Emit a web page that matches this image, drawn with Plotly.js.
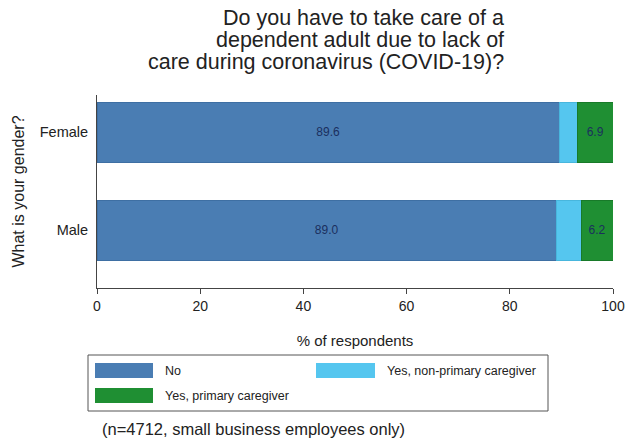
<!DOCTYPE html>
<html>
<head>
<meta charset="utf-8">
<script src="https://cdn.plot.ly/plotly-3.0.1.min.js"></script>
<style>html,body{margin:0;padding:0;background:#fff;}#chart{width:637px;height:440px;}</style>
</head>
<body>
<div id="chart"></div>
<script>
// Data
var categories = ["Male", "Female"];
var seriesNames = ["No", "Yes, non-primary caregiver", "Yes, primary caregiver"];
var noValues = [89.0, 89.6];
var nonPrimaryValues = [4.8, 3.5];
var primaryValues = [6.2, 6.9];
var xTickVals = [0, 20, 40, 60, 80, 100];
var titleLines = ["Do you have to take care of a", "dependent adult due to lack of", "care during coronavirus (COVID-19)?"];

var colors = ["#4a7db3", "#55c6ef", "#1f8f33"];
var lineColors = ["#3e6fa3", "#48b6dd", "#187a29"];

// plot area in pixels
var L = 97, R = 613, T = 95, B = 288;
function px(X){ return (X - L) / (R - L); }
function py(Y){ return (B - Y) / (B - T); }

function fmt(v){ return v.toFixed(1); }

var font = "Liberation Sans, Arial, sans-serif";
var labelFont = {family: font, size: 12, color: "#1b2f5e"};

var traces = [
  {type: "bar", orientation: "h", name: seriesNames[0], y: categories, x: noValues,
   marker: {color: colors[0], line: {color: lineColors[0], width: 1}},
   text: noValues.map(fmt), textposition: "inside", insidetextanchor: "middle",
   textfont: labelFont, insidetextfont: labelFont, constraintext: "none", hoverinfo: "x+y"},
  {type: "bar", orientation: "h", name: seriesNames[1], y: categories, x: nonPrimaryValues,
   marker: {color: colors[1], line: {color: lineColors[1], width: 1}},
   textposition: "none", hoverinfo: "x+y"},
  {type: "bar", orientation: "h", name: seriesNames[2], y: categories, x: primaryValues,
   marker: {color: colors[2], line: {color: lineColors[2], width: 1}},
   text: primaryValues.map(fmt), textposition: "inside", insidetextanchor: "middle",
   textfont: labelFont, insidetextfont: labelFont, constraintext: "none", hoverinfo: "x+y"}
];

var shapes = [
  // legend frame
  {type: "rect", xref: "paper", yref: "paper", x0: px(88), x1: px(548), y0: py(355), y1: py(411),
   line: {color: "#555", width: 1}, fillcolor: "rgba(0,0,0,0)"},
  {type: "rect", xref: "paper", yref: "paper", x0: px(95), x1: px(153), y0: py(363), y1: py(378),
   line: {width: 0}, fillcolor: colors[0]},
  {type: "rect", xref: "paper", yref: "paper", x0: px(316), x1: px(375), y0: py(363), y1: py(378),
   line: {width: 0}, fillcolor: colors[1]},
  {type: "rect", xref: "paper", yref: "paper", x0: px(95), x1: px(153), y0: py(388), y1: py(403),
   line: {width: 0}, fillcolor: colors[2]}
];

var legFont = {family: font, size: 12.5, color: "#222"};
var titleY = [18, 40, 62];
var annotations = titleLines.map(function(t, i){
  return {xref: "paper", yref: "paper", x: px(506), y: py(titleY[i]), xanchor: "right", yanchor: "middle",
          showarrow: false, text: t, font: {family: font, size: 21.5, color: "#222"}};
}).concat([
  {xref: "paper", yref: "paper", x: px(163), y: py(371), xanchor: "left", yanchor: "middle", showarrow: false,
   text: seriesNames[0], font: legFont},
  {xref: "paper", yref: "paper", x: px(385), y: py(371), xanchor: "left", yanchor: "middle", showarrow: false,
   text: seriesNames[1], font: legFont},
  {xref: "paper", yref: "paper", x: px(163), y: py(396), xanchor: "left", yanchor: "middle", showarrow: false,
   text: seriesNames[2], font: legFont},
  {xref: "paper", yref: "paper", x: px(100), y: py(429), xanchor: "left", yanchor: "middle", showarrow: false,
   text: "(n=4712, small business employees only)", font: {family: font, size: 16.5, color: "#222"}}
]);

var layout = {
  width: 637, height: 440,
  margin: {l: L, r: 637 - R, t: T, b: 440 - B, pad: 0},
  paper_bgcolor: "#fff", plot_bgcolor: "#fff",
  barmode: "stack", bargap: 0.39,
  showlegend: false,
  font: {family: font, size: 14, color: "#222"},
  xaxis: {range: [0, 100], tickvals: xTickVals, ticks: "outside", ticklen: 5, tickcolor: "#444",
          showgrid: false, zeroline: false, showline: true, linecolor: "#444", linewidth: 1,
          tickfont: {family: font, size: 14, color: "#222"},
          title: {text: "% of respondents", font: {family: font, size: 15, color: "#222"}, standoff: 22}},
  yaxis: {type: "category", range: [-0.59, 1.38], ticks: "", ticklabelstandoff: 5,
          showgrid: false, zeroline: false, showline: true, linecolor: "#444", linewidth: 1,
          tickfont: {family: font, size: 14.5, color: "#222"},
          title: {text: "What is your gender?", font: {family: font, size: 16, color: "#222"}, standoff: 11}},
  shapes: shapes,
  annotations: annotations
};

Plotly.newPlot("chart", traces, layout, {displayModeBar: false, staticPlot: true});
</script>
</body>
</html>
